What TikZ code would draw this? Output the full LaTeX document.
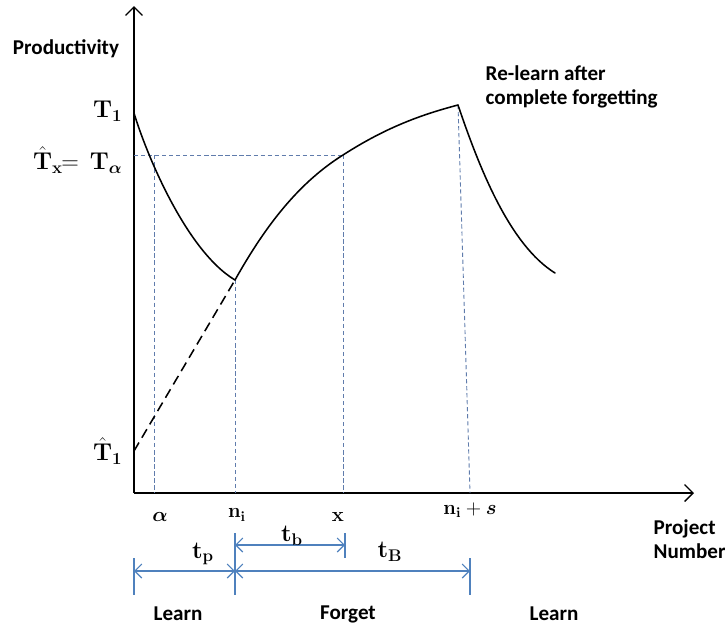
\documentclass[tikz,border=0pt]{standalone}
\usepackage{amsmath}
\usepackage{bm}
\usepackage[no-math]{fontspec}
\setmainfont{Carlito}
\usepackage{tikz}
\usetikzlibrary{arrows.meta}
\definecolor{guideblue}{RGB}{96,124,172}
\definecolor{dimblue}{RGB}{79,129,189}
\tikzset{
  axisline/.style={line width=1.3pt, draw=black, -{Straight Barb[length=6pt,width=12pt,line width=1pt]}},
  curveline/.style={line width=1.1pt, draw=black, line cap=round},
  extline/.style={line width=1.1pt, draw=black, dash pattern=on 7pt off 4pt},
  guideline/.style={line width=0.65pt, draw=guideblue, dash pattern=on 3pt off 2pt},
  dimline/.style={line width=0.9pt, draw=dimblue, {Straight Barb[length=5pt,width=10pt,line width=0.8pt]}-{Straight Barb[length=5pt,width=10pt,line width=0.8pt]}},
  dimtick/.style={line width=0.9pt, draw=dimblue},
  wordlabel/.style={font=\fontsize{15pt}{17pt}\selectfont\bfseries, inner sep=1pt},
  mathlabel/.style={font=\Large, inner sep=1pt},
  biglabel/.style={font=\LARGE, inner sep=1pt},
}
\begin{document}
\begin{tikzpicture}[x=0.025cm, y=-0.025cm]
\useasboundingbox (0,0) rectangle (725,627);
% axes
\coordinate (origin) at (134,493);
\coordinate (ytop) at (134,6);
\coordinate (xend) at (694,493);
\draw[axisline] (origin) -- (ytop);
\draw[axisline] (origin) -- (xend);
% curve points
\coordinate (start) at (134,113);
\coordinate (low) at (235,280);
\coordinate (mid) at (343,155);
\coordinate (peak) at (458,105);
\coordinate (tail) at (555,273);
\coordinate (hatone) at (134,451);
\coordinate (alphapt) at (154,155);
% guides
\draw[guideline] (start |- mid) -- (mid);
\draw[guideline] (alphapt) -- (alphapt |- origin);
\draw[guideline] (low) -- (low |- origin);
\draw[guideline] (mid) -- (mid |- origin);
\coordinate (sbase) at (470,493);
\draw[guideline] (peak) -- (sbase);
% curves
\draw[curveline] (start) .. controls (145,150) and (185,250) .. (low);
\draw[curveline] (low) .. controls (262,232) and (295,185) .. (mid)
  .. controls (385,128) and (420,115) .. (peak);
\draw[curveline] (peak) .. controls (480,170) and (510,245) .. (tail);
\draw[extline] (hatone) -- (low);
% axis labels
\node[wordlabel] (prod) at (66,49) {Productivity};
\node[wordlabel, align=left, anchor=west] (proj) at (652,539) {Project\\Number};
\node[wordlabel, align=left, anchor=west] (relearn) at (484,87) {Re-learn after\\complete forgetting};
\node[biglabel, anchor=east] (tone) at (124,111) {$\mathbf{T}_{\mathbf{1}}$};
\node[biglabel, anchor=east] (talpha) at (124,160) {$\hat{\mathbf{T}}_{\mathbf{x}}\!\!=\,\mathbf{T}_{\bm{\alpha}}$};
\node[biglabel, anchor=east] (thatone) at (124,451) {$\hat{\mathbf{T}}_{\mathbf{1}}$};
\node[mathlabel] (alab) at (160,517) {$\bm{\alpha}$};
\node[mathlabel] (nlab) at (237,515) {$\mathbf{n}_{\mathbf{i}}$};
\node[mathlabel] (xlab) at (338,517) {$\mathbf{x}$};
\node[mathlabel] (slab) at (470,510) {$\mathbf{n}_{\mathbf{i}}+\bm{s}$};
% dimensions
\coordinate (d0) at (134,571);
\coordinate (d1) at (235,571);
\coordinate (d2) at (470,571);
\coordinate (b0) at (235,545);
\coordinate (b1) at (345,545);
\draw[dimtick] (134,558) -- (134,595);
\draw[dimtick] (235,533) -- (235,595);
\draw[dimtick] (345,533) -- (345,558);
\draw[dimtick] (470,558) -- (470,595);
\draw[dimline] (d0) -- (d1);
\draw[dimline] (d1) -- (d2);
\draw[dimline] (b0) -- (b1);
\node[biglabel] (tp) at (203,554) {$\mathbf{t}_{\mathbf{p}}$};
\node[biglabel] (tb) at (292,536) {$\mathbf{t}_{\mathbf{b}}$};
\node[biglabel] (tB) at (390,552) {$\mathbf{t}_{\mathbf{B}}$};
% phases
\node[wordlabel] (learnA) at (178,614) {Learn};
\node[wordlabel] (forget) at (348,614) {Forget};
\node[wordlabel] (learnB) at (554,614) {Learn};
\end{tikzpicture}
\end{document}
